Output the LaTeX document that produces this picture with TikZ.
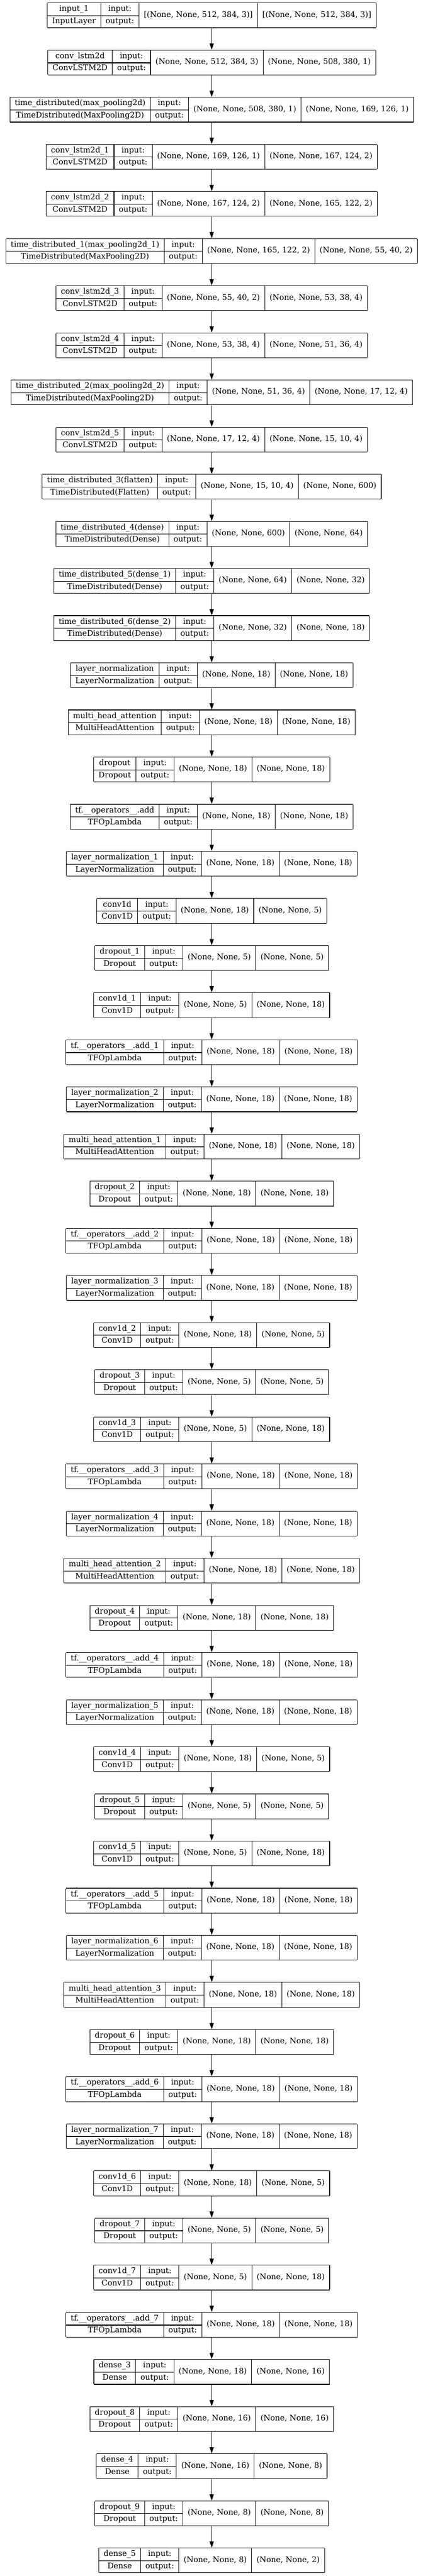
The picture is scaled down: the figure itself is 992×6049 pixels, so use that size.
\documentclass[tikz,border=0pt]{standalone}
\usepackage{fontspec}
\setmainfont{DejaVu Serif}
\usepackage{tikz}
\usetikzlibrary{arrows.meta}

\setlength{\arrayrulewidth}{1pt}
\setlength{\tabcolsep}{8.5pt}
\renewcommand{\arraystretch}{0}
\newcommand{\lstr}{\rule[-7.27pt]{0pt}{21.375pt}}
\newcommand{\up}[1]{\raisebox{11.19pt}[0pt][0pt]{#1}}
% one keras layer: index, name, class, input shape, output shape
\newcommand{\lyr}[5]{%
  \node[layer] (L#1) at (496.5,{36.2+110.67*#1}) {%
    \begin{tabular}{|c|c|c|c|}\hline
      \lstr #2 & input: & & \\\cline{1-2}
      \lstr #3 & output: & \up{#4} & \up{#5}\\\hline
    \end{tabular}};}

\tikzset{
  layer/.style={inner sep=0pt, font=\fontsize{13.7}{17}\selectfont},
  flow/.style={line width=1pt, -{Triangle[length=11pt,width=7.5pt]}}
}

\begin{document}
\begin{tikzpicture}[x=0.75pt,y=-0.75pt]
		\useasboundingbox (0,0) rectangle (992,6049);

		\lyr{0}{input\_1}{InputLayer}{[(None, None, 512, 384, 3)]}{[(None, None, 512, 384, 3)]}
		\lyr{1}{conv\_lstm2d}{ConvLSTM2D}{(None, None, 512, 384, 3)}{(None, None, 508, 380, 1)}
		\lyr{2}{time\_distributed(max\_pooling2d)}{TimeDistributed(MaxPooling2D)}{(None, None, 508, 380, 1)}{(None, None, 169, 126, 1)}
		\lyr{3}{conv\_lstm2d\_1}{ConvLSTM2D}{(None, None, 169, 126, 1)}{(None, None, 167, 124, 2)}
		\lyr{4}{conv\_lstm2d\_2}{ConvLSTM2D}{(None, None, 167, 124, 2)}{(None, None, 165, 122, 2)}
		\lyr{5}{time\_distributed\_1(max\_pooling2d\_1)}{TimeDistributed(MaxPooling2D)}{(None, None, 165, 122, 2)}{(None, None, 55, 40, 2)}
		\lyr{6}{conv\_lstm2d\_3}{ConvLSTM2D}{(None, None, 55, 40, 2)}{(None, None, 53, 38, 4)}
		\lyr{7}{conv\_lstm2d\_4}{ConvLSTM2D}{(None, None, 53, 38, 4)}{(None, None, 51, 36, 4)}
		\lyr{8}{time\_distributed\_2(max\_pooling2d\_2)}{TimeDistributed(MaxPooling2D)}{(None, None, 51, 36, 4)}{(None, None, 17, 12, 4)}
		\lyr{9}{conv\_lstm2d\_5}{ConvLSTM2D}{(None, None, 17, 12, 4)}{(None, None, 15, 10, 4)}
		\lyr{10}{time\_distributed\_3(flatten)}{TimeDistributed(Flatten)}{(None, None, 15, 10, 4)}{(None, None, 600)}
		\lyr{11}{time\_distributed\_4(dense)}{TimeDistributed(Dense)}{(None, None, 600)}{(None, None, 64)}
		\lyr{12}{time\_distributed\_5(dense\_1)}{TimeDistributed(Dense)}{(None, None, 64)}{(None, None, 32)}
		\lyr{13}{time\_distributed\_6(dense\_2)}{TimeDistributed(Dense)}{(None, None, 32)}{(None, None, 18)}

		\lyr{14}{layer\_normalization}{LayerNormalization}{(None, None, 18)}{(None, None, 18)}
		\lyr{15}{multi\_head\_attention}{MultiHeadAttention}{(None, None, 18)}{(None, None, 18)}
		\lyr{16}{dropout}{Dropout}{(None, None, 18)}{(None, None, 18)}
		\lyr{17}{tf.\_\_operators\_\_.add}{TFOpLambda}{(None, None, 18)}{(None, None, 18)}
		\lyr{18}{layer\_normalization\_1}{LayerNormalization}{(None, None, 18)}{(None, None, 18)}
		\lyr{19}{conv1d}{Conv1D}{(None, None, 18)}{(None, None, 5)}
		\lyr{20}{dropout\_1}{Dropout}{(None, None, 5)}{(None, None, 5)}
		\lyr{21}{conv1d\_1}{Conv1D}{(None, None, 5)}{(None, None, 18)}
		\lyr{22}{tf.\_\_operators\_\_.add\_1}{TFOpLambda}{(None, None, 18)}{(None, None, 18)}

		\lyr{23}{layer\_normalization\_2}{LayerNormalization}{(None, None, 18)}{(None, None, 18)}
		\lyr{24}{multi\_head\_attention\_1}{MultiHeadAttention}{(None, None, 18)}{(None, None, 18)}
		\lyr{25}{dropout\_2}{Dropout}{(None, None, 18)}{(None, None, 18)}
		\lyr{26}{tf.\_\_operators\_\_.add\_2}{TFOpLambda}{(None, None, 18)}{(None, None, 18)}
		\lyr{27}{layer\_normalization\_3}{LayerNormalization}{(None, None, 18)}{(None, None, 18)}
		\lyr{28}{conv1d\_2}{Conv1D}{(None, None, 18)}{(None, None, 5)}
		\lyr{29}{dropout\_3}{Dropout}{(None, None, 5)}{(None, None, 5)}
		\lyr{30}{conv1d\_3}{Conv1D}{(None, None, 5)}{(None, None, 18)}
		\lyr{31}{tf.\_\_operators\_\_.add\_3}{TFOpLambda}{(None, None, 18)}{(None, None, 18)}

		\lyr{32}{layer\_normalization\_4}{LayerNormalization}{(None, None, 18)}{(None, None, 18)}
		\lyr{33}{multi\_head\_attention\_2}{MultiHeadAttention}{(None, None, 18)}{(None, None, 18)}
		\lyr{34}{dropout\_4}{Dropout}{(None, None, 18)}{(None, None, 18)}
		\lyr{35}{tf.\_\_operators\_\_.add\_4}{TFOpLambda}{(None, None, 18)}{(None, None, 18)}
		\lyr{36}{layer\_normalization\_5}{LayerNormalization}{(None, None, 18)}{(None, None, 18)}
		\lyr{37}{conv1d\_4}{Conv1D}{(None, None, 18)}{(None, None, 5)}
		\lyr{38}{dropout\_5}{Dropout}{(None, None, 5)}{(None, None, 5)}
		\lyr{39}{conv1d\_5}{Conv1D}{(None, None, 5)}{(None, None, 18)}
		\lyr{40}{tf.\_\_operators\_\_.add\_5}{TFOpLambda}{(None, None, 18)}{(None, None, 18)}

		\lyr{41}{layer\_normalization\_6}{LayerNormalization}{(None, None, 18)}{(None, None, 18)}
		\lyr{42}{multi\_head\_attention\_3}{MultiHeadAttention}{(None, None, 18)}{(None, None, 18)}
		\lyr{43}{dropout\_6}{Dropout}{(None, None, 18)}{(None, None, 18)}
		\lyr{44}{tf.\_\_operators\_\_.add\_6}{TFOpLambda}{(None, None, 18)}{(None, None, 18)}
		\lyr{45}{layer\_normalization\_7}{LayerNormalization}{(None, None, 18)}{(None, None, 18)}
		\lyr{46}{conv1d\_6}{Conv1D}{(None, None, 18)}{(None, None, 5)}
		\lyr{47}{dropout\_7}{Dropout}{(None, None, 5)}{(None, None, 5)}
		\lyr{48}{conv1d\_7}{Conv1D}{(None, None, 5)}{(None, None, 18)}
		\lyr{49}{tf.\_\_operators\_\_.add\_7}{TFOpLambda}{(None, None, 18)}{(None, None, 18)}

		\lyr{50}{dense\_3}{Dense}{(None, None, 18)}{(None, None, 16)}
		\lyr{51}{dropout\_8}{Dropout}{(None, None, 16)}{(None, None, 16)}
		\lyr{52}{dense\_4}{Dense}{(None, None, 16)}{(None, None, 8)}
		\lyr{53}{dropout\_9}{Dropout}{(None, None, 8)}{(None, None, 8)}
		\lyr{54}{dense\_5}{Dense}{(None, None, 8)}{(None, None, 2)}

		\foreach \i in {1,...,54}{
			\pgfmathtruncatemacro{\p}{\i-1}
			\draw[flow] (L\p) -- (L\i);
		}
	\end{tikzpicture}
\end{document}
